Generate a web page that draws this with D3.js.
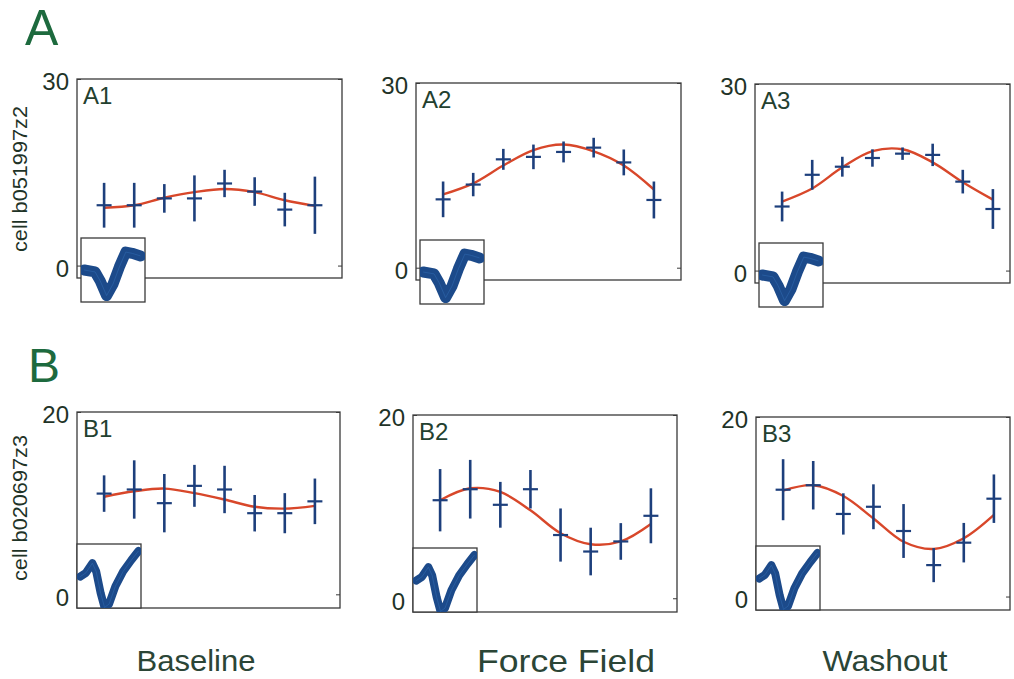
<!DOCTYPE html>
<html><head><meta charset="utf-8">
<script src="https://cdn.jsdelivr.net/npm/d3@7"></script>
<style>
html,body{margin:0;padding:0;background:#fff;}
svg{display:block;}
text{font-family:"Liberation Sans",Arial,Helvetica,sans-serif;}
</style></head>
<body>
<svg id="chart" width="1014" height="679"></svg>
<script>
// ---------------- data ----------------
const directions = [0, 1, 2, 3, 4, 5, 6, 7];
const conditions = ["Baseline", "Force Field", "Washout"];
const rowLabels = ["A", "B"];
const cellNames = ["cell b051997z2", "cell b020697z3"];
const panelIds = ["A1", "A2", "A3", "B1", "B2", "B3"];
const yTicksA = [0, 30];
const yTicksB = [0, 20];

const meanA1 = [9.7, 9.7, 10.8, 10.8, 13.2, 11.9, 9.0, 9.7];
const errA1  = [3.6, 3.6, 2.3, 3.7, 2.2, 2.3, 2.7, 4.6];
const fitA1  = [9.3, 9.7, 10.9, 11.8, 12.3, 11.8, 10.5, 9.6];

const meanA2 = [11.1, 13.5, 17.6, 18.0, 18.8, 19.5, 17.1, 11.0];
const errA2  = [2.9, 1.9, 1.7, 2.0, 1.7, 1.6, 2.1, 3.0];
const fitA2  = [11.9, 13.7, 16.6, 19.1, 20.0, 18.9, 16.6, 12.7];

const meanA3 = [10.3, 15.4, 16.7, 18.1, 18.8, 18.6, 14.3, 9.9];
const errA3  = [2.4, 2.4, 1.6, 1.4, 1.0, 1.8, 1.9, 3.2];
const fitA3  = [11.1, 13.2, 16.6, 19.2, 19.5, 17.4, 14.2, 11.4];

const meanB1 = [11.05, 11.5, 10.0, 11.9, 11.5, 8.9, 8.9, 10.2];
const errB1  = [2.0, 3.2, 3.2, 2.3, 2.6, 2.0, 2.2, 2.5];
const fitB1  = [10.7, 11.3, 11.6, 11.1, 10.4, 9.6, 9.4, 9.7];

const meanB2 = [10.7, 11.9, 10.2, 11.9, 6.9, 5.1, 6.2, 9.0];
const errB2  = [3.4, 3.2, 2.5, 2.1, 2.9, 2.6, 2.0, 3.0];
const fitB2  = [10.7, 12.0, 11.6, 9.6, 7.1, 5.9, 6.2, 8.1];

const meanB3 = [11.9, 12.4, 9.2, 10.0, 7.3, 3.5, 6.0, 10.9];
const errB3  = [3.4, 2.7, 2.3, 2.5, 3.0, 1.9, 2.2, 2.7];
const fitB3  = [11.8, 12.4, 11.2, 8.7, 6.1, 5.3, 6.5, 9.1];

// spike waveform insets (normalised time, normalised amplitude)
const waveTimeA = [0.05, 0.22, 0.30, 0.40, 0.50, 0.60, 0.70, 0.80, 0.93];
const waveAmpA  = [0.50, 0.47, 0.33, 0.10, 0.28, 0.55, 0.78, 0.76, 0.72];
const waveTimeB = [0.05, 0.14, 0.24, 0.30, 0.37, 0.43, 0.50, 0.60, 0.72, 0.85, 0.96];
const waveAmpB  = [0.49, 0.55, 0.70, 0.57, 0.23, 0.01, 0.06, 0.34, 0.57, 0.75, 0.89];

// ---------------- layout ----------------
const means = [meanA1, meanA2, meanA3, meanB1, meanB2, meanB3];
const errs  = [errA1, errA2, errA3, errB1, errB2, errB3];
const fits  = [fitA1, fitA2, fitA3, fitB1, fitB2, fitB3];

const layout = [
  {x: 77,  y: 79,  w: 265, h: 199},
  {x: 416, y: 83,  w: 265, h: 197},
  {x: 755, y: 84,  w: 255, h: 199},
  {x: 77,  y: 412, w: 263, h: 196},
  {x: 413, y: 415, w: 264, h: 197},
  {x: 756, y: 417, w: 254, h: 193}
];

const C = {
  blue: "#1d3f7c",
  red: "#d8472a",
  wave: "#1c4a8a",
  frame: "#3a3a3a",
  tickText: "#1f3327",
  title: "#1d6a3e",
  panelText: "#23402f",
  xlab: "#2b4536"
};

const svg = d3.select("#chart");

// big row letters
svg.append("text").attr("x", 25).attr("y", 45).attr("font-size", 50).attr("fill", C.title).text(rowLabels[0]);
svg.append("text").attr("x", 28).attr("y", 382).attr("font-size", 48).attr("fill", C.title).text(rowLabels[1]);

// y labels
const ylabPos = [{x: 20, y: 179}, {x: 20, y: 508}];
cellNames.forEach((t, i) => {
  svg.append("text")
    .attr("transform", `translate(${ylabPos[i].x},${ylabPos[i].y}) rotate(-90)`)
    .attr("text-anchor", "middle").attr("dominant-baseline", "central")
    .attr("font-size", 20).attr("fill", C.tickText)
    .attr("textLength", 146).attr("lengthAdjust", "spacingAndGlyphs")
    .text(t);
});

// condition labels
const xlabPos = [{x: 196, y: 671, fs: 30, len: 119}, {x: 566, y: 672, fs: 32, len: 178}, {x: 885, y: 671, fs: 30, len: 125}];
conditions.forEach((t, i) => {
  svg.append("text").attr("x", xlabPos[i].x).attr("y", xlabPos[i].y)
    .attr("text-anchor", "middle").attr("font-size", xlabPos[i].fs).attr("fill", C.xlab)
    .attr("textLength", xlabPos[i].len).attr("lengthAdjust", "spacingAndGlyphs")
    .text(t);
});

const line = d3.line().curve(d3.curveCatmullRom.alpha(0.5));

panelIds.forEach((id, p) => {
  const L = layout[p];
  const isA = p < 3;
  const ticks = isA ? yTicksA : yTicksB;
  const x = d3.scaleLinear().domain([-0.9, 7.9]).range([L.x, L.x + 265]);
  const y = d3.scaleLinear().domain(isA ? [-2, 30] : [-1.5, 20]).range([L.y + L.h, L.y]);
  const g = svg.append("g");

  // frame
  g.append("rect").attr("x", L.x).attr("y", L.y).attr("width", L.w).attr("height", L.h)
    .attr("fill", "none").attr("stroke", C.frame).attr("stroke-width", 1.3);

  // axes ticks (inward)
  const left = g.append("g").attr("transform", `translate(${L.x},0)`)
    .call(d3.axisLeft(y).tickValues(ticks).tickSize(-4).tickPadding(8));
  left.select(".domain").remove();
  left.selectAll("line").attr("stroke", C.frame);
  left.selectAll("text").attr("font-size", 24).attr("fill", C.tickText)
    .attr("font-family", '"Liberation Sans",Arial,sans-serif').attr("dy", "0.45em");
  const right = g.append("g").attr("transform", `translate(${L.x + L.w},0)`)
    .call(d3.axisRight(y).tickValues(ticks).tickSize(-4).tickFormat(""));
  right.select(".domain").remove();
  right.selectAll("line").attr("stroke", C.frame);

  // panel label
  g.append("text").attr("x", L.x + 6).attr("y", L.y + 25).attr("font-size", 24)
    .attr("fill", C.panelText).text(id);

  // fitted curve
  g.append("path")
    .attr("d", line(directions.map((d, i) => [x(d), y(fits[p][i])])))
    .attr("fill", "none").attr("stroke", C.red).attr("stroke-width", 2.4);

  // error crosses
  const pts = directions.map((d, i) => ({d, m: means[p][i], e: errs[p][i]}));
  g.selectAll(".ev").data(pts).join("line")
    .attr("x1", d => x(d.d)).attr("x2", d => x(d.d))
    .attr("y1", d => y(d.m + d.e)).attr("y2", d => y(d.m - d.e))
    .attr("stroke", C.blue).attr("stroke-width", 2.6);
  g.selectAll(".eh").data(pts).join("line")
    .attr("x1", d => x(d.d) - 7.5).attr("x2", d => x(d.d) + 7.5)
    .attr("y1", d => y(d.m)).attr("y2", d => y(d.m))
    .attr("stroke", C.blue).attr("stroke-width", 2.2);

  // waveform inset
  const iw = 64, ih = 64;
  const ix = isA ? L.x + 4 : L.x;
  const iy = isA ? L.y + L.h - 40 : L.y + L.h - ih;
  const clipId = "clip" + id;
  g.append("clipPath").attr("id", clipId).append("rect")
    .attr("x", ix).attr("y", iy).attr("width", iw).attr("height", ih);
  g.append("rect").attr("x", ix).attr("y", iy).attr("width", iw).attr("height", ih)
    .attr("fill", "#fff").attr("stroke", C.frame).attr("stroke-width", 1.3);
  const wx = d3.scaleLinear().domain([0, 1]).range([ix, ix + iw]);
  const wy = d3.scaleLinear().domain([0, 1]).range([iy + ih, iy]);
  const wt = isA ? waveTimeA : waveTimeB;
  const wa = isA ? waveAmpA : waveAmpB;
  const wl = d3.line().curve(d3.curveLinear);
  const wd = wl(wt.map((t, i) => [wx(t), wy(wa[i])]));
  g.append("path").attr("clip-path", `url(#${clipId})`)
    .attr("d", wd)
    .attr("fill", "none").attr("stroke", C.wave)
    .attr("stroke-width", isA ? 11 : 8).attr("stroke-linejoin", "round").attr("stroke-linecap", "round");
  g.append("path").attr("clip-path", `url(#${clipId})`)
    .attr("d", wd)
    .attr("fill", "none").attr("stroke", "#2f67ad").attr("stroke-width", 1).attr("opacity", 0.6);
});
</script>
</body></html>
